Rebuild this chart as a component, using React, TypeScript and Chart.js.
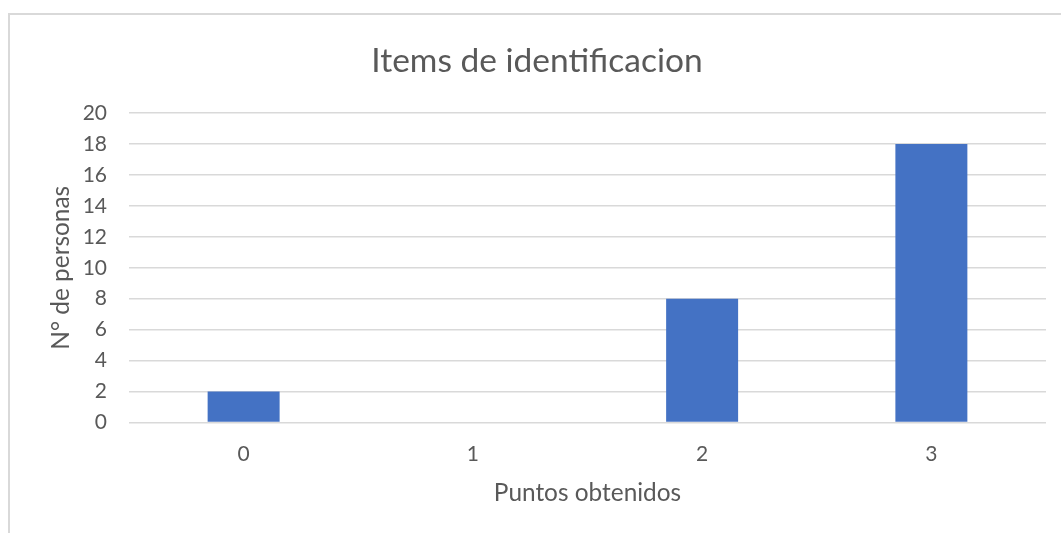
import React, { useEffect, useRef } from "react";
import { Chart, registerables } from "chart.js";

Chart.register(...registerables);

const categories = ["0", "1", "2", "3"];
const personas = [2, 0, 8, 18];
const chartTitle = "Items de identificacion";
const xTitle = "Puntos obtenidos";
const yTitle = "N° de personas";

const TEXT = "#595959";
const GRID = "#d9d9d9";
const FONT = "Lato, 'Open Sans', sans-serif";

const frame = {
  id: "frame",
  beforeDraw(chart: any) {
    const ctx = chart.ctx;
    ctx.save();
    ctx.fillStyle = "#ffffff";
    ctx.fillRect(0, 0, chart.width, chart.height);
    ctx.fillStyle = GRID;
    ctx.fillRect(8, 13, 2, chart.height - 13);
    ctx.fillRect(8, 13, chart.width - 8, 2);
    ctx.restore();
  },
};

export default function App() {
  const ref = useRef<HTMLCanvasElement>(null);
  useEffect(() => {
    if (!ref.current) return;
    const chart = new Chart(ref.current, {
      type: "bar",
      data: {
        labels: categories,
        datasets: [
          {
            data: personas,
            backgroundColor: "#4472C4",
            categoryPercentage: 1,
            barPercentage: 0.314,
          },
        ],
      },
      options: {
        animation: false,
        responsive: false,
        maintainAspectRatio: false,
        layout: { padding: { left: 28, right: 15, top: 0, bottom: 0 } },
        plugins: {
          legend: { display: false },
          tooltip: { enabled: false },
          title: {
            display: true,
            text: chartTitle,
            color: TEXT,
            font: { family: FONT, size: 33.5, weight: "normal" },
            padding: { top: 40.9, bottom: 31.9 },
          },
        },
        scales: {
          x: {
            grid: { display: false, drawTicks: false },
            border: { display: false },
            ticks: { color: TEXT, font: { family: FONT, size: 21 }, padding: 19 },
            title: {
              display: true,
              text: xTitle,
              color: TEXT,
              font: { family: FONT, size: 24.4 },
              padding: { top: 0, bottom: 25.4 },
            },
            afterFit(scale: any) {
              scale.height = 110.5;
            },
          },
          y: {
            min: 0,
            max: 20,
            grid: { color: GRID, lineWidth: 1.5, drawTicks: false },
            border: { display: false },
            ticks: { stepSize: 2, color: TEXT, font: { family: FONT, size: 21 }, padding: 22 },
            title: {
              display: true,
              text: yTitle,
              color: TEXT,
              font: { family: FONT, size: 24.4 },
              padding: { top: 18.4, bottom: 0 },
            },
            afterFit(scale: any) {
              scale.width = 101;
            },
          },
        },
      },
      plugins: [frame],
    });
    return () => chart.destroy();
  }, []);
  return (
    <div style={{ position: "absolute", left: 0, top: 0, width: 1061, height: 533 }}>
      <canvas ref={ref} width={1061} height={533} style={{ display: "block" }} />
    </div>
  );
}
